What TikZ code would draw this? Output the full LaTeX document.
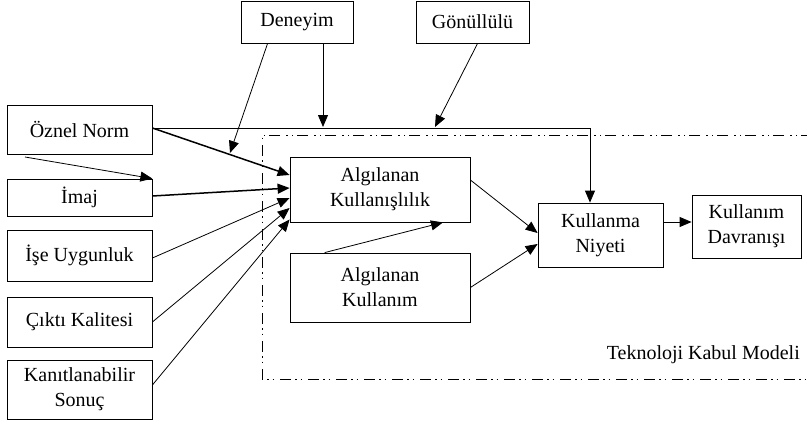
\documentclass[tikz,border=0pt]{standalone}
\usepackage{fontspec}
\setmainfont{Liberation Serif}
\usetikzlibrary{arrows.meta}
\begin{document}
\begin{tikzpicture}[x=1pt,y=-1pt,
  box/.style={draw, line width=0.8pt, inner sep=0pt, align=center,
    font=\fontsize{20}{25}\selectfont},
  con/.style={line width=0.8pt, -{Triangle[length=12pt,width=10pt]}},
  thick con/.style={line width=1.5pt, -{Triangle[length=12pt,width=10pt]}},
  frame/.style={line width=1pt, dash pattern=on 11pt off 4pt on 1.5pt off 4pt on 1.5pt off 6pt}
]
\useasboundingbox (0,0) rectangle (807,431);
% boxes
\node[box, minimum width=112pt, minimum height=42pt] (den) at (297,22) {Deneyim};
\node[box, minimum width=113pt, minimum height=42pt] (gon) at (472.5,22) {Gönüllülü};
\node[box, minimum width=145pt, minimum height=49pt] (oz) at (79.5,129.5) {Öznel Norm};
\node[box, minimum width=145pt, minimum height=37pt] (imaj) at (79.5,197.5) {İmaj};
\node[box, minimum width=145pt, minimum height=51pt] (ise) at (79.5,255.5) {İşe Uygunluk};
\node[box, minimum width=145pt, minimum height=50pt] (cikti) at (79.5,322) {Çıktı Kalitesi};
\node[box, minimum width=145pt, minimum height=59pt] (kanit) at (79.5,389.5) {Kanıtlanabilir\\Sonuç};
\node[box, minimum width=180pt, minimum height=65pt] (ak) at (380,189.5) {Algılanan\\Kullanışlılık};
\node[box, minimum width=180pt, minimum height=69pt] (akm) at (380,287.5) {Algılanan\\Kullanım};
\node[box, minimum width=125pt, minimum height=64pt] (kn) at (600.5,235) {Kullanma\\Niyeti};
\node[box, minimum width=109pt, minimum height=63pt] (kd) at (746.5,226.5) {Kullanım\\Davranışı};
% frame
\draw[frame] (812,135) -- (262,135) -- (262,379) -- (812,379);
\node[anchor=east, inner sep=0pt, font=\fontsize{20}{25}\selectfont] (tkm) at (800,355) {Teknoloji Kabul Modeli};
% coordinates
\coordinate (turn) at (590,128);
\coordinate (d1) at (323,127);
\coordinate (d2) at (230,153);
\coordinate (g1) at (435,127);
\coordinate (i0) at (25,157);
% connectors
\draw[con] ([yshift=1.5pt]oz.east) -- (turn) -- (turn |- kn.north);
\draw[con] (d1 |- den.south) -- (d1);
\draw[con] ([xshift=27pt]den.south west) -- (d2);
\draw[con] ([xshift=62pt]gon.south west) -- (g1);
\draw[thick con] ([yshift=1.5pt]oz.east) -- ([yshift=14.5pt]ak.west);
\draw[con] (i0) -- (imaj.north east);
\draw[thick con] ([yshift=1.5pt]imaj.east) -- ([yshift=1.5pt]ak.west);
\draw[con] ([yshift=-2.5pt]ise.east) -- ([yshift=-8.5pt]ak.west);
\draw[con] (cikti.east) -- ([yshift=-18.5pt]ak.west);
\draw[con] ([yshift=4.5pt]kanit.east) -- ([yshift=-30pt]ak.west);
\draw[con] ([yshift=9.5pt]ak.east) -- ([yshift=2pt]kn.west);
\draw[con] ([xshift=35pt]akm.north west) -- ([xshift=63pt]ak.south);
\draw[con] (akm.east) -- ([yshift=-9pt]kn.west);
\draw[con] ([yshift=13pt]kn.east) -- ([yshift=4.5pt]kd.west);
\end{tikzpicture}
\end{document}
